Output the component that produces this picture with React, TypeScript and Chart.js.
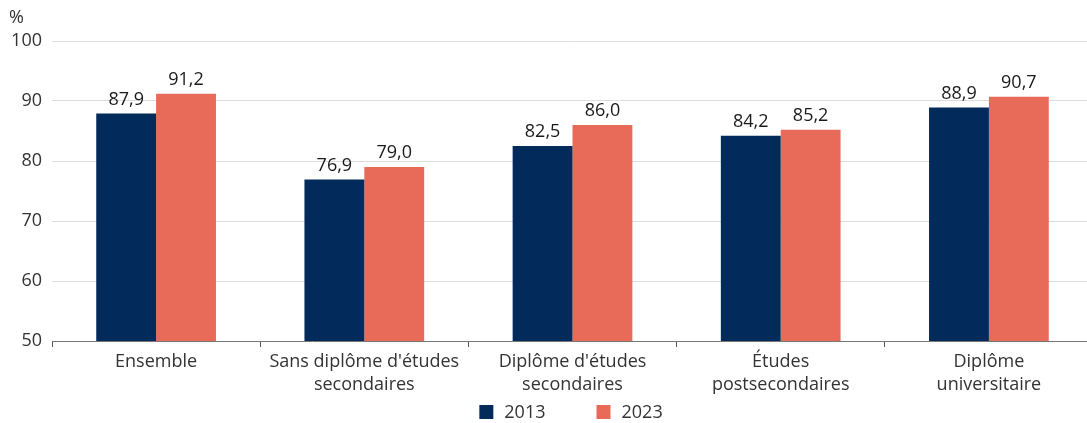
import React, { useEffect, useRef } from "react";
import { Chart, registerables } from "chart.js";

Chart.register(...registerables);

const categories: (string | string[])[] = [
  "Ensemble",
  ["Sans diplôme d'études", "secondaires"],
  ["Diplôme d'études", "secondaires"],
  ["Études", "postsecondaires"],
  ["Diplôme", "universitaire"],
];
const values2013 = [87.9, 76.9, 82.5, 84.2, 88.9];
const values2023 = [91.2, 79.0, 86.0, 85.2, 90.7];
const seriesLabels = ["2013", "2023"];
const seriesColors = ["#022a5a", "#e86a58"];
const yTicks = [50, 60, 70, 80, 90, 100];

const FONT = "'Open Sans', 'Noto Sans', sans-serif";
const FS = 18;
const CANVAS_W = 1093;

const labelPlugin = {
  id: "valueLabels",
  afterDatasetsDraw(chart: any) {
    const ctx = chart.ctx;
    ctx.save();
    ctx.font = `${FS}px ${FONT}`;
    ctx.fillStyle = "#1a1a1a";
    ctx.textAlign = "center";
    ctx.textBaseline = "bottom";
    chart.data.datasets.forEach((ds: any, i: number) => {
      const meta = chart.getDatasetMeta(i);
      meta.data.forEach((bar: any, j: number) => {
        const v = ds.data[j] as number;
        ctx.fillText(v.toFixed(1).replace(".", ","), bar.x, bar.y - 5);
      });
    });
    // unit label
    ctx.textAlign = "left";
    ctx.textBaseline = "middle";
    ctx.fillStyle = "#333333";
    ctx.fillText("%", 9, 18);

    // legend
    const box = 14;
    const gapText = 11;
    const gapItem = 51;
    const widths = seriesLabels.map((l) => box + gapText + ctx.measureText(l).width);
    const total = widths.reduce((a, b) => a + b, 0) + gapItem * (widths.length - 1);
    let x = 571 - total / 2;
    const cy = 412;
    seriesLabels.forEach((l, i) => {
      ctx.fillStyle = seriesColors[i];
      ctx.fillRect(x, cy - box / 2, box, box);
      ctx.fillStyle = "#333333";
      ctx.textAlign = "left";
      ctx.textBaseline = "middle";
      ctx.fillText(l, x + box + gapText, cy + 1);
      x += widths[i] + gapItem;
    });
    ctx.restore();
  },
};

export default function App() {
  const ref = useRef<HTMLCanvasElement>(null);
  useEffect(() => {
    document.body.style.margin = "0";
    const chart = new Chart(ref.current!, {
      type: "bar",
      data: {
        labels: categories,
        datasets: seriesLabels.map((l, i) => ({
          label: l,
          data: i === 0 ? values2013 : values2023,
          backgroundColor: seriesColors[i],
          barPercentage: 1,
          categoryPercentage: 0.575,
        })),
      },
      options: {
        animation: false,
        responsive: false,
        maintainAspectRatio: false,
        layout: { padding: { top: 41, right: 0, left: 0, bottom: 0 } },
        plugins: {
          legend: { display: false },
          tooltip: { enabled: false },
        },
        scales: {
          x: {
            afterFit(axis: any) {
              axis.height = 82;
            },
            grid: {
              display: true,
              drawOnChartArea: false,
              drawTicks: true,
              tickLength: 6,
              color: "#555555",
              offset: true,
            },
            border: { display: true, color: "#777777", width: 1 },
            ticks: {
              color: "#333333",
              font: { family: FONT, size: FS, lineHeight: 1.3 },
              maxRotation: 0,
              autoSkip: false,
              padding: 3,
            },
          },
          y: {
            min: 50,
            max: 100,
            afterBuildTicks(axis: any) {
              axis.ticks = yTicks.map((v) => ({ value: v }));
            },
            afterFit(axis: any) {
              axis.width = 52;
            },
            grid: {
              color: "#dddddd",
              drawTicks: false,
            },
            border: { display: false },
            ticks: {
              color: "#333333",
              font: { family: FONT, size: FS },
              padding: 10,
            },
          },
        },
      },
      plugins: [labelPlugin],
    });
    return () => chart.destroy();
  }, []);
  return (
    <div style={{ width: 1087, height: 423, overflow: "hidden" }}>
      <canvas ref={ref} width={CANVAS_W} height={423} style={{ display: "block" }} />
    </div>
  );
}
